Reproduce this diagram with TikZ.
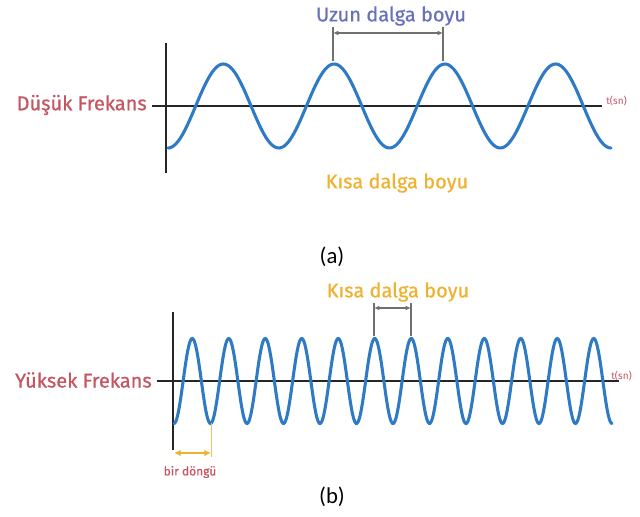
\documentclass[tikz,border=0pt]{standalone}
\usepackage{fontspec}
\setmainfont{Fira Sans}
\newfontfamily\labfont{Fira Sans}[FakeBold=0.7]
\newfontfamily\capfont{Carlito}
\usetikzlibrary{arrows.meta}
\definecolor{WaveBlue}{RGB}{46,122,196}
\definecolor{LabelRed}{RGB}{196,86,98}
\definecolor{LongBlue}{RGB}{104,112,184}
\definecolor{ShortGold}{RGB}{238,178,48}
\definecolor{DimGray}{RGB}{112,112,112}

\begin{document}
\begin{tikzpicture}[>=Latex,x=0.75pt,y=-0.75pt,
  axis/.style={line width=1.9pt,black!85},
  wave/.style={line width=2.3pt,WaveBlue,line cap=round},
  dimline/.style={line width=0.9pt,DimGray},
  dimarrow/.style={dimline,{Latex[length=4pt,width=3.5pt]}-{Latex[length=4pt,width=3.5pt]}},
  cyclearrow/.style={line width=1.6pt,ShortGold,{Latex[length=5pt,width=5pt]}-{Latex[length=5pt,width=5pt]}},
  freqlab/.style={text=LabelRed,font=\labfont\fontsize{15}{17}\selectfont,anchor=east,inner sep=0pt},
  lenlab/.style={font=\labfont\fontsize{15}{17}\selectfont,inner sep=0pt},
  tlab/.style={text=LabelRed,font=\fontsize{7.5}{8}\selectfont,anchor=west,inner sep=0pt},
  caplab/.style={font=\capfont\fontsize{17}{19}\selectfont,inner sep=0pt}]
\useasboundingbox (0,0) rectangle (640,517);

% (a) low frequency
\node[freqlab] (low) at (147,105) {Düşük Frekans};
\coordinate (lowW) at (152,106);
\coordinate (lowE) at (602,106);
\coordinate (lowT) at (166,43);
\coordinate (lowB) at (166,173);
\draw[axis] (lowW) -- (lowE);
\draw[axis] (lowT) -- (lowB);
\node[tlab] (tlow) at (606,101) {t(sn)};
\draw[wave] plot[domain=168:611,samples=240] (\x,{106+42*cos((\x-168)/110.75*360)});
\node[lenlab,text=LongBlue] (longlab) at (391,16) {Uzun dalga boyu};
\coordinate (u1) at (333,27);
\coordinate (u2) at (443,27);
\coordinate (pk1) at (333,61);
\coordinate (pk2) at (443,61);
\coordinate (ua1) at (333,33);
\coordinate (ua2) at (443,33);
\draw[dimline] (u1) -- (pk1);
\draw[dimline] (u2) -- (pk2);
\draw[dimarrow] (ua1) -- (ua2);
\node[lenlab,text=ShortGold] (shortlow) at (397,183) {Kısa dalga boyu};
\node[caplab] (capa) at (332,257) {(a)};

% (b) high frequency
\node[freqlab] (high) at (152,380) {Yüksek Frekans};
\coordinate (highW) at (157,381);
\coordinate (highE) at (619,381);
\coordinate (highT) at (173,312);
\coordinate (highB) at (173,450);
\draw[axis] (highW) -- (highE);
\draw[axis] (highT) -- (highB);
\node[tlab] (thigh) at (611,376) {t(sn)};
\draw[wave] plot[domain=174:612,samples=480] (\x,{381+42.5*cos((\x-174)/36.5*360)});
\node[lenlab,text=ShortGold] (shorthigh) at (398,292) {Kısa dalga boyu};
\coordinate (s1) at (374,303);
\coordinate (s2) at (411,303);
\coordinate (spk1) at (374,336);
\coordinate (spk2) at (411,336);
\coordinate (sa1) at (374,308);
\coordinate (sa2) at (411,308);
\draw[dimline] (s1) -- (spk1);
\draw[dimline] (s2) -- (spk2);
\draw[dimarrow] (sa1) -- (sa2);
\coordinate (cyT) at (211,423);
\coordinate (cyB) at (211,457);
\coordinate (cy1) at (174,453);
\coordinate (cy2) at (211,453);
\draw[line width=0.7pt,ShortGold!80] (cyT) -- (cyB);
\draw[cyclearrow] (cy1) -- (cy2);
\node[font=\labfont\fontsize{9}{10}\selectfont,text=LabelRed,inner sep=0pt] (cycle) at (190,472) {bir döngü};
\node[caplab] (capb) at (332,497) {(b)};
\end{tikzpicture}
\end{document}
